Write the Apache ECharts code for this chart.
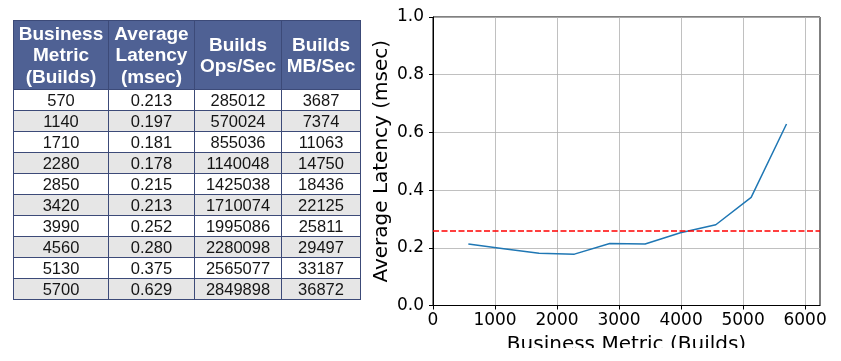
<!DOCTYPE html>
<html>
<head>
<meta charset="utf-8">
<script src="https://cdn.jsdelivr.net/npm/echarts@6/dist/echarts.min.js"></script>
<style>
html,body{margin:0;padding:0;background:#fff;width:841px;height:361px;overflow:hidden;}
#chart{position:absolute;left:0;top:0;width:841px;height:348px;}
#tbl{position:absolute;left:13px;top:20px;z-index:2;border-collapse:collapse;table-layout:fixed;
  font-family:"Liberation Sans",Arial,sans-serif;}
#tbl th{background:#4f6194;color:#fff;font-weight:bold;font-size:19px;line-height:21.5px;
  height:68px;padding:0;border:1px solid #3c4a78;text-align:center;vertical-align:middle;}
#tbl td{font-size:16.5px;color:#151515;height:20px;padding:0;line-height:20px;border:1px solid #3c4a78;text-align:center;}
#tbl tr.g td{background:#e6e6e6;}
</style>
</head>
<body>
<div id="chart"></div>
<table id="tbl"><thead><tr id="hdr"></tr></thead><tbody id="body"></tbody></table>
<script>
// ---- data ----
var headers = ["Business<br>Metric<br>(Builds)", "Average<br>Latency<br>(msec)", "Builds<br>Ops/Sec", "Builds<br>MB/Sec"];
var builds = [570, 1140, 1710, 2280, 2850, 3420, 3990, 4560, 5130, 5700];
var latency = ["0.213", "0.197", "0.181", "0.178", "0.215", "0.213", "0.252", "0.280", "0.375", "0.629"];
var opsPerSec = [285012, 570024, 855036, 1140048, 1425038, 1710074, 1995086, 2280098, 2565077, 2849898];
var mbPerSec = [3687, 7374, 11063, 14750, 18436, 22125, 25811, 29497, 33187, 36872];
var threshold = 0.258;
var xTicks = [0, 1000, 2000, 3000, 4000, 5000, 6000];

// ---- table ----
var colW = [94, 85, 86, 78];
var hdr = document.getElementById('hdr');
headers.forEach(function (h, i) {
  var th = document.createElement('th');
  th.style.width = colW[i] + 'px';
  th.innerHTML = h;
  hdr.appendChild(th);
});
var body = document.getElementById('body');
builds.forEach(function (b, i) {
  var tr = document.createElement('tr');
  if (i % 2 === 1) tr.className = 'g';
  [b, latency[i], opsPerSec[i], mbPerSec[i]].forEach(function (v) {
    var td = document.createElement('td');
    td.textContent = v;
    tr.appendChild(td);
  });
  body.appendChild(tr);
});

// ---- chart ----
var chart = echarts.init(document.getElementById('chart'), null, {renderer: 'canvas'});
var font = '"DejaVu Sans", sans-serif';
chart.setOption({
  backgroundColor: 'transparent',
  animation: false,
  grid: {left: 433, top: 17, right: 21, bottom: 42.5, show: true, borderColor: '#000', borderWidth: 1,
    backgroundColor: 'transparent', containLabel: false, outerBoundsMode: 'none'},
  xAxis: {
    type: 'value', min: 0, max: 6240, interval: 1000,
    name: 'Business Metric (Builds)', nameLocation: 'middle', nameGap: 29,
    nameTextStyle: {fontFamily: font, fontSize: 20, color: '#000'},
    axisLine: {lineStyle: {color: '#000', width: 1}},
    axisTick: {show: true, length: 4, lineStyle: {color: '#000'}, customValues: xTicks},
    axisLabel: {fontFamily: font, fontSize: 17, color: '#000', margin: 7, customValues: xTicks,
      formatter: function (v) { return xTicks.indexOf(v) >= 0 ? String(v) : ''; }},
    splitLine: {show: true, lineStyle: {color: '#b0b0b0', width: 0.8}}
  },
  yAxis: {
    type: 'value', min: 0, max: 1, interval: 0.2,
    name: 'Average Latency (msec)', nameLocation: 'middle', nameGap: 41,
    nameTextStyle: {fontFamily: font, fontSize: 20, color: '#000'},
    axisLine: {show: true, lineStyle: {color: '#000', width: 1}},
    axisTick: {show: true, length: 4, lineStyle: {color: '#000'}},
    axisLabel: {fontFamily: font, fontSize: 17, color: '#000', margin: 9,
      formatter: function (v) { return v.toFixed(1); }},
    splitLine: {show: true, lineStyle: {color: '#b0b0b0', width: 0.8}}
  },
  series: [{
    type: 'line',
    data: builds.map(function (b, i) { return [b, parseFloat(latency[i])]; }),
    showSymbol: false, symbol: 'none',
    lineStyle: {color: '#1f77b4', width: 1.5},
    markLine: {
      silent: true, symbol: 'none', label: {show: false},
      lineStyle: {color: '#ff0000', type: [6, 2.5], width: 1.5},
      data: [{yAxis: threshold}]
    }
  }]
});
</script>
</body>
</html>
